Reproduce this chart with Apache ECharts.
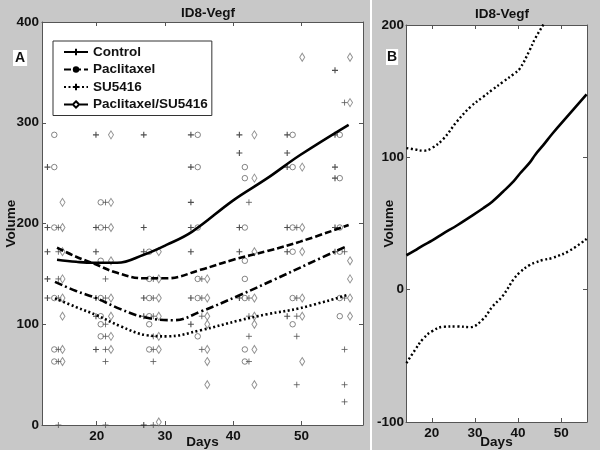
<!DOCTYPE html>
<html><head><meta charset="utf-8">
<script src="https://cdn.jsdelivr.net/npm/echarts@6/dist/echarts.min.js"></script>
<style>html,body{margin:0;padding:0;background:#c8c8c8}#c{width:600px;height:450px}</style>
</head><body><div id="c"></div>
<script>
// ---------- Panel A: scatter data (day of measurement per group, volumes per day) ----------
const ctrlDays  = [12.8, 19.9, 26.9, 33.8, 40.9, 47.9, 54.9];
const pacDays   = [13.8, 20.6, 27.7, 34.8, 41.7, 48.7, 55.6];
const suDays    = [14.4, 21.3, 28.3, 35.4, 42.3, 49.3, 56.3];
const comboDays = [15.0, 22.1, 29.1, 36.2, 43.1, 50.1, 57.1];

const ctrlVols = [
  [256,196,172,145,126],
  [288,196,172,126,108,75],
  [288,196,172,126,108,0],
  [288,256,221,196,172,126,100],
  [288,270,196,172,126],
  [288,270,256,196,172,108],
  [352,288,256,245,196,172]
];
const pacVols = [
  [288,256,196,126,75,63],
  [221,196,163,126,108,100,88],
  [172,145,126,108,100,75],
  [288,256,196,145,126,88],
  [256,245,196,163,145,126,75,63],
  [288,256,196,172,126,100],
  [288,245,196,172,126,108]
];
const suVols = [
  [196,172,145,126,75,63,0],
  [221,196,145,126,100,88,75,63,0],
  [145,126,108,88,75,63,0],
  [145,126,108,75],
  [221,126,108,88,63],
  [196,126,108,88,40],
  [320,172,126,75,40,23]
];
const comboVols = [
  [221,196,172,145,126,108,75,63],
  [288,221,196,163,126,108,88,75],
  [172,145,126,108,88,75,3],
  [145,126,108,100,75,63,40],
  [288,245,172,126,108,100,75,40],
  [365,256,196,172,126,108,63],
  [365,320,163,145,126,108]
];

// ---------- Panel A: fitted curves [day, volume] ----------
const ctrlFit  = [[14.2,164],[17,162],[19.5,161],[23,161],[26.9,169],[30.3,179],[34,192],[40,223],[45,245],[49.8,268],[56.9,298]];
const pacFit   = [[14.2,176],[17,167],[19.5,160.5],[23,151],[26.9,145.6],[30.3,145.6],[35.2,154],[40,164],[45,172.7],[49.8,182],[56.9,198.5]];
const suFit    = [[13.9,125.7],[17,117],[20,109],[23.5,98],[27.4,89],[30.3,88],[35.2,94],[41,104],[45,110],[49.8,116],[56.7,129]];
const comboFit = [[13.9,142],[17,133],[20,125.7],[23.5,115],[26.9,107],[31.3,104],[35.2,112.5],[41,129],[45.9,144],[51,160],[56.7,177.7]];

// ---------- Panel B: difference curve with bounds ----------
const bDays  = [14.1, 16, 18, 20, 22.7, 25.8, 28.9, 31.9, 34, 36.5, 39, 40.4, 42.7, 44, 45.8, 48, 52, 55.9];
const bMid   = [26, 29.5, 33.5, 37, 42.5, 48.5, 55, 61.5, 66.5, 74, 82, 87.6, 96, 102, 109, 118, 133, 147.5];
const bUpper = [107, 106, 105, 107, 114, 127, 138, 145.7, 151, 157, 163, 167, 181, 190, 200, 215, 240, 265];
const bLower = [-55.5, -46, -37, -31.5, -28, -27.8, -28.3, -22.2, -13, -4.5, 8, 13, 18.7, 20.5, 22.5, 24, 29.5, 38.4];

const xTicksA = [20, 30, 40, 50];
const yTicksA = [0, 100, 200, 300, 400];
const xTicksB = [20, 30, 40, 50];
const yTicksB = [-100, 0, 100, 200];

const FONT = 'Liberation Sans, Arial, sans-serif';
const txt = {fontFamily: FONT, fontWeight: 'bold', fontSize: 13.5, color: '#111'};
const plusPath = 'path://M5,0 L5,10 M0,5 L10,5';

function pts(days, vols) {
  const out = [];
  days.forEach((d, i) => vols[i].forEach(v => out.push([d, v])));
  return out;
}
function zip(a, b) { return a.map((x, i) => [x, b[i]]); }

function mkX(idx, min, max, ticks, pos, showLabels, gap) {
  return {
    gridIndex: idx, type: 'value', min: min, max: max, position: pos,
    splitLine: {show: false},
    axisLine: {show: true, onZero: false, lineStyle: {color: '#555', width: 1}},
    axisTick: {show: true, inside: true, length: 4, customValues: ticks, lineStyle: {color: '#555'}},
    axisLabel: {show: showLabels, customValues: ticks, margin: 4, ...txt},
    name: showLabels ? 'Days' : '', nameLocation: 'middle', nameGap: gap, nameMoveOverlap: false,
    nameTextStyle: txt
  };
}
function mkY(idx, min, max, ticks, pos, showLabels, gap, margin) {
  return {
    gridIndex: idx, type: 'value', min: min, max: max, interval: 100, position: pos,
    splitLine: {show: false},
    axisLine: {show: true, onZero: false, lineStyle: {color: '#555', width: 1}},
    axisTick: {show: true, inside: true, length: 4, lineStyle: {color: '#555'}},
    axisLabel: {show: showLabels, margin: margin, ...txt},
    name: showLabels ? 'Volume' : '', nameLocation: 'middle', nameGap: gap, nameMoveOverlap: false,
    nameTextStyle: txt
  };
}

const chart = echarts.init(document.getElementById('c'));
chart.setOption({
  backgroundColor: '#c8c8c8',
  animation: false,
  title: [
    {text: 'ID8-Vegf', left: 203, top: 1.5, textAlign: 'center', textStyle: txt},
    {text: 'ID8-Vegf', left: 497, top: 2, textAlign: 'center', textStyle: txt}
  ],
  grid: [
    {left: 42, top: 22, width: 321, height: 403, show: true, backgroundColor: '#fff', borderWidth: 0, outerBoundsMode: 'none', containLabel: false},
    {left: 406, top: 25, width: 181, height: 397, show: true, backgroundColor: '#fff', borderWidth: 0, outerBoundsMode: 'none', containLabel: false}
  ],
  xAxis: [
    mkX(0, 12, 59, xTicksA, 'bottom', true, 10),
    mkX(0, 12, 59, xTicksA, 'top', false, 0),
    mkX(1, 14, 56, xTicksB, 'bottom', true, 13),
    mkX(1, 14, 56, xTicksB, 'top', false, 0)
  ],
  yAxis: [
    mkY(0, 0, 400, yTicksA, 'left', true, 24, 3),
    mkY(0, 0, 400, yTicksA, 'right', false, 0, 3),
    mkY(1, -100, 200, yTicksB, 'left', true, 10, 2),
    mkY(1, -100, 200, yTicksB, 'right', false, 0, 2)
  ],
  legend: {
    data: ['Control', 'Paclitaxel', 'SU5416', 'Paclitaxel/SU5416'],
    orient: 'vertical', left: 53, top: 41,
    backgroundColor: '#fff', borderColor: '#333', borderWidth: 1, borderRadius: 0,
    padding: [4, 4, 4, 10], itemWidth: 24, itemHeight: 8, itemGap: 3.5,
    textStyle: txt, selectedMode: false
  },
  graphic: [
    {type: 'rect', left: 370, top: 0, shape: {width: 2, height: 450}, style: {fill: '#fff'}},
    {type: 'text', left: 13, top: 50, style: {text: 'A', font: 'bold 14px ' + FONT, fill: '#111', backgroundColor: '#fff', padding: [1, 2, 1, 2]}},
    {type: 'text', left: 386, top: 49, style: {text: 'B', font: 'bold 14px ' + FONT, fill: '#111', backgroundColor: '#fff', padding: [1, 1, 1, 1]}}
  ],
  series: [
    {name: 'ctrlPts', type: 'scatter', xAxisIndex: 0, yAxisIndex: 0, data: pts(ctrlDays, ctrlVols),
     symbol: plusPath, symbolSize: 6, itemStyle: {color: 'rgba(0,0,0,0)', borderColor: '#222', borderWidth: 1.1}, z: 2},
    {name: 'pacPts', type: 'scatter', xAxisIndex: 0, yAxisIndex: 0, data: pts(pacDays, pacVols),
     symbol: 'circle', symbolSize: 5.5, itemStyle: {color: 'rgba(0,0,0,0)', borderColor: '#666', borderWidth: 1}, z: 2},
    {name: 'suPts', type: 'scatter', xAxisIndex: 0, yAxisIndex: 0, data: pts(suDays, suVols),
     symbol: plusPath, symbolSize: 6, itemStyle: {color: 'rgba(0,0,0,0)', borderColor: '#555', borderWidth: 1}, z: 2},
    {name: 'comboPts', type: 'scatter', xAxisIndex: 0, yAxisIndex: 0, data: pts(comboDays, comboVols),
     symbol: 'diamond', symbolSize: [5, 8], itemStyle: {color: 'rgba(0,0,0,0)', borderColor: '#777', borderWidth: 1}, z: 2},

    {name: 'Control', type: 'line', xAxisIndex: 0, yAxisIndex: 0, data: ctrlFit, smooth: 0.4, showSymbol: false,
     symbol: plusPath, symbolSize: 7, itemStyle: {color: '#000', borderColor: '#000', borderWidth: 1.5},
     lineStyle: {color: '#000', width: 2.6, type: 'solid'}, z: 3},
    {name: 'Paclitaxel', type: 'line', xAxisIndex: 0, yAxisIndex: 0, data: pacFit, smooth: 0.4, showSymbol: false,
     symbol: 'circle', symbolSize: 6, itemStyle: {color: '#000', borderColor: '#000'},
     lineStyle: {color: '#000', width: 2.6, type: [7, 3]}, z: 3},
    {name: 'SU5416', type: 'line', xAxisIndex: 0, yAxisIndex: 0, data: suFit, smooth: 0.4, showSymbol: false,
     symbol: plusPath, symbolSize: 7, itemStyle: {color: '#000', borderColor: '#000', borderWidth: 1.5},
     lineStyle: {color: '#000', width: 2.6, type: [2, 2.5]}, z: 3},
    {name: 'Paclitaxel/SU5416', type: 'line', xAxisIndex: 0, yAxisIndex: 0, data: comboFit, smooth: 0.4, showSymbol: false,
     symbol: 'diamond', symbolSize: 7, itemStyle: {color: '#fff', borderColor: '#000', borderWidth: 1.5},
     lineStyle: {color: '#000', width: 2.6, type: [8, 3, 2, 3]}, z: 3},

    {name: 'bMid', type: 'line', xAxisIndex: 2, yAxisIndex: 2, data: zip(bDays, bMid), smooth: 0.4, showSymbol: false,
     lineStyle: {color: '#000', width: 2.6}, clip: true},
    {name: 'bUpper', type: 'line', xAxisIndex: 2, yAxisIndex: 2, data: zip(bDays, bUpper), smooth: 0.4, showSymbol: false,
     lineStyle: {color: '#000', width: 2.4, type: [2, 2.5]}, clip: true},
    {name: 'bLower', type: 'line', xAxisIndex: 2, yAxisIndex: 2, data: zip(bDays, bLower), smooth: 0.4, showSymbol: false,
     lineStyle: {color: '#000', width: 2.4, type: [2, 2.5]}, clip: true}
  ]
});
</script></body></html>
